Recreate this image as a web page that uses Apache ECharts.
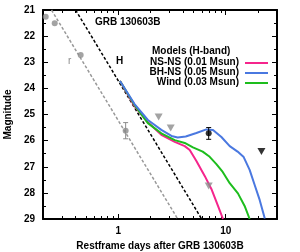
<!DOCTYPE html>
<html><head><meta charset="utf-8">
<script src="https://cdn.jsdelivr.net/npm/echarts@6/dist/echarts.min.js"></script>
<style>html,body{margin:0;padding:0;background:#fff}#c{width:300px;height:252px}</style>
</head><body><div id="c"></div>
<script>
// ---- data ----
const xMajorTicks = [1, 10];
const xMinorTicks = [0.3,0.4,0.5,0.6,0.7,0.8,0.9,2,3,4,5,6,7,8,9,20];
const nsnsCurve = [[1.04,23.72],[1.42,24.68],[1.88,25.29],[2.52,25.78],[3.36,26.05],[4.16,26.21],[4.63,26.36],[5.34,26.78],[6.38,27.35],[7.36,27.85],[8.48,28.50],[9.44,29.0]];
const bhnsCurve = [[1.04,23.72],[1.42,24.60],[1.89,25.21],[2.52,25.59],[3.13,25.82],[3.58,25.88],[4.25,25.84],[5.34,25.71],[6.61,25.57],[7.62,25.59],[9.12,25.86],[10.9,26.21],[12.9,26.42],[14.7,26.63],[16.7,27.12],[18.6,27.70],[20.7,28.27],[23.1,28.98]];
const windCurve = [[1.04,23.72],[1.42,24.64],[1.89,25.33],[2.52,25.72],[3.36,25.98],[4.16,26.09],[4.96,26.26],[6.11,26.42],[7.10,26.62],[8.19,26.90],[9.38,27.20],[10.9,27.63],[13.0,28.02],[15.0,28.50],[16.7,29.0]];
const hAfterglow = [[0.402,21],[5.98,29]];
const rAfterglow = [[0.240,21],[3.58,29]];
const rPoints = [[0.212,21.26],[0.257,21.51],[0.448,22.72],[1.174,25.62]];
const rErrors = [[1.174,25.31,25.93]];
const rLimits = [[2.38,25.10],[3.08,25.52],[6.95,27.74]];
const hPoints = [[6.95,25.72]];
const hErrors = [[6.95,25.50,25.95]];
const hLimits = [[21.5,26.42]];
const legendNames = ['NS-NS (0.01 Msun)','BH-NS (0.05 Msun)','Wind (0.03 Msun)'];

const FONT = 'Liberation Sans, Arial, sans-serif';
const C_PINK = '#f5258c', C_BLUE = '#4a78e0', C_GREEN = '#1dbd1d', C_GRAY = '#8c8c8c';

const chart = echarts.init(document.getElementById('c'), null, {renderer:'canvas'});

function xAx(pos, ticks, len, showLine, showLabel){
  return {type:'log', logBase:10, min:0.2, max:30, position:pos,
    axisLine:{show:showLine, onZero:false, lineStyle:{color:'#000', width:2}},
    axisTick:{show:true, inside:true, length:len, customValues:ticks, lineStyle:{color:'#000', width:1}},
    axisLabel:{show:showLabel, customValues:xMajorTicks, margin:7, color:'#000', fontSize:10, fontWeight:'bold', fontFamily:FONT, formatter:v=>String(Math.round(v))},
    splitLine:{show:false}, minorTick:{show:false}};
}
function yAx(pos, showLabel){
  return {type:'value', min:21, max:29, interval:1, inverse:true, position:pos,
    axisLine:{show:true, onZero:false, lineStyle:{color:'#000', width:2}},
    axisTick:{show:true, inside:true, length:5, lineStyle:{color:'#000', width:1}},
    minorTick:{show:true, splitNumber:2, length:3, lineStyle:{color:'#000', width:1}},
    axisLabel:{show:showLabel, margin:8, color:'#000', fontSize:10, fontWeight:'bold', fontFamily:FONT},
    splitLine:{show:false},
    name: showLabel ? 'Magnitude' : '', nameLocation:'middle', nameGap:28,
    nameTextStyle:{color:'#000', fontSize:10, fontWeight:'bold', fontFamily:FONT}};
}

const xs = [xAx('bottom', xMajorTicks, 5, true, true), xAx('bottom', xMinorTicks, 3, false, false),
            xAx('top', xMajorTicks, 5, true, false), xAx('top', xMinorTicks, 3, false, false)];
xs[0].name = 'Restframe days after GRB 130603B';
xs[0].nameLocation = 'middle'; xs[0].nameGap = 17;
xs[0].nameTextStyle = {color:'#000', fontSize:10, fontWeight:'bold', fontFamily:FONT};

function errBar(color){
  return function(params, api){
    const x = api.value(0);
    const a = api.coord([x, api.value(1)]), b = api.coord([x, api.value(2)]);
    const w = 2.5;
    const st = {stroke:color, lineWidth:1};
    return {type:'group', children:[
      {type:'line', shape:{x1:a[0],y1:a[1],x2:b[0],y2:b[1]}, style:st},
      {type:'line', shape:{x1:a[0]-w,y1:a[1],x2:a[0]+w,y2:a[1]}, style:st},
      {type:'line', shape:{x1:b[0]-w,y1:b[1],x2:b[0]+w,y2:b[1]}, style:st}
    ]};
  };
}

const lineS = (name, data, color) => ({name, type:'line', data, xAxisIndex:0, yAxisIndex:0, symbol:'none', smooth:false,
  lineStyle:{color, width:2}, itemStyle:{color}, z:3, clip:true, animation:false});

const option = {
  animation:false,
  grid:{left:43, top:10, width:234, height:209, containLabel:false, outerBoundsMode:'none'},
  xAxis: xs,
  yAxis: [yAx('left', true), yAx('right', false)],
  series:[
    {type:'line', data:rAfterglow, symbol:'none', lineStyle:{color:'#999', width:1.5, type:[3,2]}, z:2, clip:true},
    {type:'line', data:hAfterglow, symbol:'none', lineStyle:{color:'#000', width:1.5, type:[3,2]}, z:2, clip:true},
    lineS(legendNames[0], nsnsCurve, C_PINK),
    lineS(legendNames[2], windCurve, C_GREEN),
    lineS(legendNames[1], bhnsCurve, C_BLUE),
    {type:'custom', data:rErrors, renderItem:errBar(C_GRAY), encode:{x:0, y:[1,2]}, z:4},
    {type:'scatter', data:rPoints, symbol:'circle', symbolSize:6, itemStyle:{color:C_GRAY}, z:4},
    {type:'scatter', data:rLimits, symbol:'triangle', symbolRotate:180, symbolSize:[8,7], itemStyle:{color:C_GRAY}, z:4},
    {type:'custom', data:hErrors, renderItem:errBar('#000'), encode:{x:0, y:[1,2]}, z:5},
    {type:'scatter', data:hPoints, symbol:'circle', symbolSize:6, itemStyle:{color:'#000'}, z:5},
    {type:'scatter', data:hLimits, symbol:'triangle', symbolRotate:180, symbolSize:[8,7], itemStyle:{color:'#000'}, z:5}
  ],
  graphic:[
    {type:'text', left:95, top:17, style:{text:'GRB 130603B', fill:'#000', font:'bold 10px '+FONT}},
    {type:'text', left:116, top:56, style:{text:'H', fill:'#000', font:'bold 10px '+FONT}},
    {type:'text', left:68, top:56, style:{text:'r', fill:C_GRAY, font:'10px '+FONT}},
    {type:'text', left:152, top:46, style:{text:'Models (H-band)', fill:'#000', font:'bold 10px '+FONT}},
    {type:'text', right:61, top:57, style:{text:legendNames[0], fill:'#000', font:'bold 10px '+FONT, align:'right'}},
    {type:'text', right:61, top:67, style:{text:legendNames[1], fill:'#000', font:'bold 10px '+FONT, align:'right'}},
    {type:'text', right:61, top:77, style:{text:legendNames[2], fill:'#000', font:'bold 10px '+FONT, align:'right'}},
    {type:'line', shape:{x1:245,y1:63,x2:268,y2:63}, style:{stroke:C_PINK, lineWidth:2}},
    {type:'line', shape:{x1:245,y1:73,x2:268,y2:73}, style:{stroke:C_BLUE, lineWidth:2}},
    {type:'line', shape:{x1:245,y1:83,x2:268,y2:83}, style:{stroke:C_GREEN, lineWidth:2}}
  ]
};
chart.setOption(option);
</script></body></html>
